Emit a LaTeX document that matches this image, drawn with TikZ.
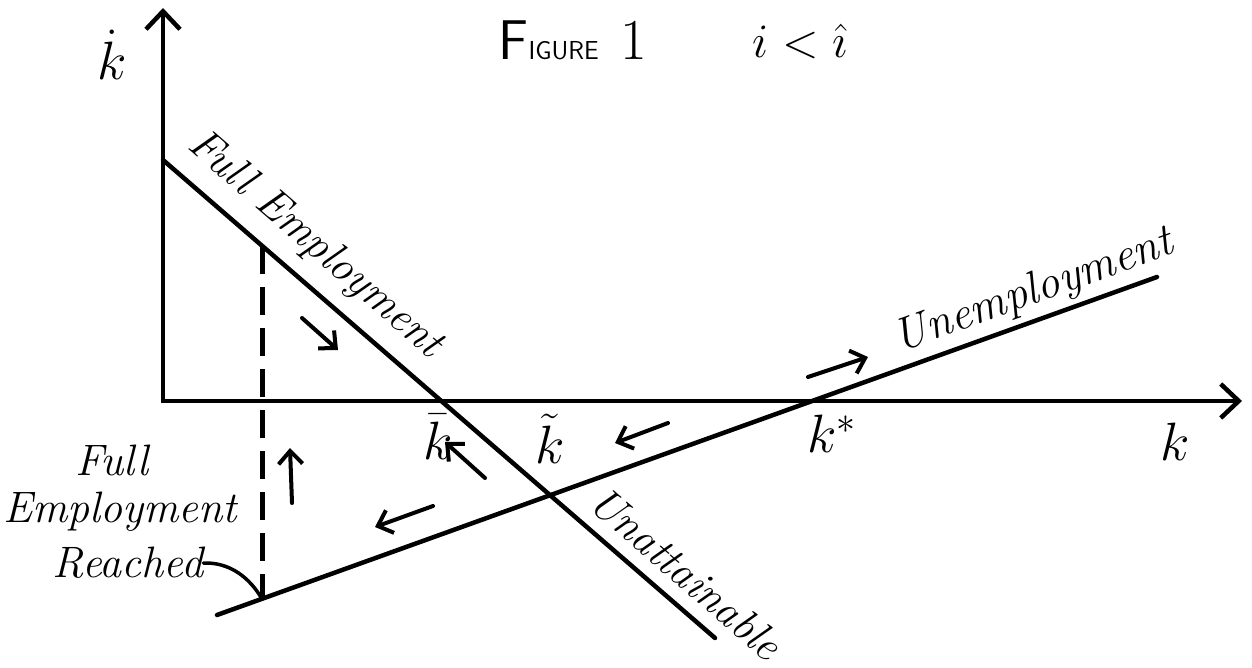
\RequirePackage{fix-cm}
\documentclass[tikz,border=0pt]{standalone}
\usepackage{fontspec}
\usetikzlibrary{arrows.meta}
\begin{document}
\begin{tikzpicture}[x=1pt,y=-1pt,
  axis/.style={line width=4.5pt, line join=miter, {Straight Barb[length=18pt,width=34pt]}-{Straight Barb[length=18pt,width=34pt]}},
  curve/.style={line width=4.5pt, line cap=round},
  flow/.style={line width=4pt, line cap=round, -{Straight Barb[length=13pt,width=24pt]}},
  hand/.style={font=\fontsize{44}{50}\selectfont\itshape, inner sep=0pt},
  klab/.style={font=\fontsize{54}{60}\selectfont, inner sep=0pt},
  dropline/.style={line width=5pt, dash pattern=on 28pt off 13pt},
  leader/.style={line width=3.5pt, line cap=round}
]
\useasboundingbox (0,0) rectangle (1252,668);

% axes
\coordinate (O) at (163,401);
\coordinate (ytop) at (163,8);
\coordinate (xend) at (1242,401);
\draw[axis] (ytop) -- (O) -- (xend);

% curves
\coordinate (fe1) at (163,160);
\coordinate (fe2) at (715,638);
\coordinate (u1) at (217,615);
\coordinate (u2) at (1157,277);
\draw[curve] (fe1) -- (fe2);
\draw[curve] (u1) -- (u2);

% dashed drop line
\coordinate (d1) at (262,246);
\coordinate (d2) at (262,599);
\draw[dropline] (d1) -- (d2);

% motion arrows
\coordinate (a1s) at (302,318); \coordinate (a1e) at (338,350);
\coordinate (a2s) at (292,503); \coordinate (a2e) at (290,448);
\coordinate (a3s) at (485,478); \coordinate (a3e) at (445,442);
\coordinate (a4s) at (668,423); \coordinate (a4e) at (615,443);
\coordinate (a5s) at (433,506); \coordinate (a5e) at (375,527);
\coordinate (a6s) at (808,377); \coordinate (a6e) at (868,357);
\draw[flow] (a1s) -- (a1e);
\draw[flow] (a2s) -- (a2e);
\draw[flow] (a3s) -- (a3e);
\draw[flow] (a4s) -- (a4e);
\draw[flow] (a5s) -- (a5e);
\draw[flow] (a6s) -- (a6e);

% title
\node[anchor=base, inner sep=0pt] (title) at (573,60)
  {{\fontsize{56}{60}\selectfont\sffamily F}{\fontsize{26}{30}\selectfont\sffamily IGURE}\hspace{22pt}{\fontsize{58}{60}\selectfont 1}};
\node[anchor=base, inner sep=0pt] (ineq) at (800,58)
  {\fontsize{48}{50}\selectfont $i<\hat{\imath}$};

% axis labels
\node[klab] (kdot) at (112,55) {$\dot k$};
\node[klab] (kbar) at (438,437) {$\bar k$};
\node[klab] (ktil) at (550,439) {$\tilde k$};
\node[klab] (kstar) at (832,434) {$k^{*}$};
\node[klab] (kx) at (1175,442) {$k$};

% curve labels
\node[hand, rotate=-40.9] (lfe) at (315,245) {Full Employment};
\node[hand, rotate=19.8, font=\fontsize{46}{50}\selectfont\itshape] (lun) at (1034,292) {Unemployment};
\node[hand, rotate=-40.9] (lua) at (686,573) {Unattainable};

% left label
\node[hand] (lf1) at (112,460) {Full};
\node[hand] (lf2) at (120,512) {Employment};
\node[hand] (lf3) at (128,563) {Reached};
\draw[leader] (lf3.east) .. controls (230,562) and (250,578) .. (d2);
\end{tikzpicture}
\end{document}
